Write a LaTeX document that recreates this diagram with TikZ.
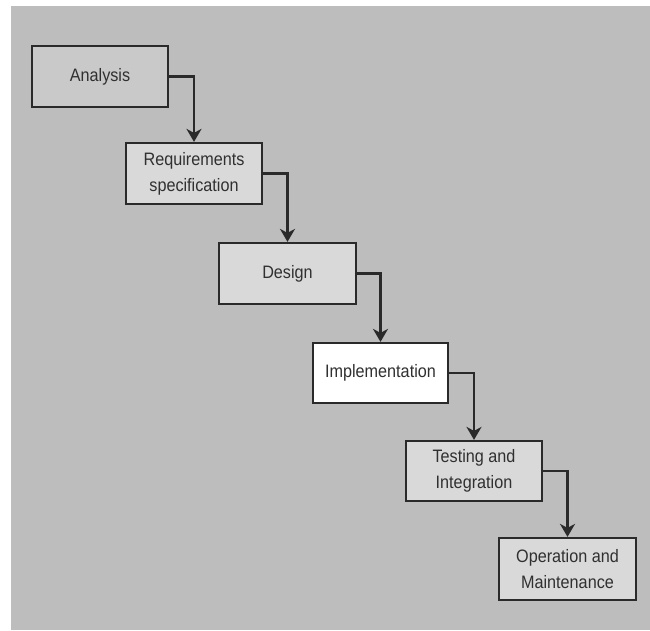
\documentclass[tikz,border=0pt]{standalone}
\usepackage{fontspec}
\setmainfont{Liberation Sans}[FakeStretch=0.9]
\usetikzlibrary{arrows.meta}
\definecolor{bggray}{HTML}{BDBDBD}
\definecolor{boxgray}{HTML}{D9D9D9}
\definecolor{boxgrayA}{HTML}{C9C9C9}
\definecolor{ink}{HTML}{2A2A2A}
\definecolor{txt}{HTML}{303030}
\begin{document}
\begin{tikzpicture}[x=1pt,y=-1pt,
  stagebox/.style={draw=ink, line width=2.2pt, fill=boxgray, minimum width=136pt, minimum height=61pt,
    inner sep=0pt, align=center, text=txt, font=\fontsize{18}{26}\selectfont},
  flow/.style={draw=ink, line width=2.2pt, -{Stealth[length=13pt,width=15pt,inset=4pt]}}]
  \useasboundingbox (0,0) rectangle (650,631);
  \fill[white] (0,0) rectangle (650,631);
  \fill[bggray] (11,6) rectangle (650,630);
  \node[stagebox, fill=boxgrayA] (ana) at (100,76.5) {Analysis};
  \node[stagebox] (req) at (194,173.5) {Requirements\\specification};
  \node[stagebox, minimum width=137pt] (des) at (287.5,273.5) {Design};
  \node[stagebox, fill=white, minimum width=135pt, minimum height=60pt] (imp) at (380.5,373) {Implementation};
  \node[stagebox, minimum height=60pt] (tes) at (474,471) {Testing and\\Integration};
  \node[stagebox, minimum width=137pt, minimum height=62pt] (ope) at (567.5,569) {Operation and\\Maintenance};
  \draw[flow] (ana.east) -| (req.north);
  \draw[flow] (req.east) -| (des.north);
  \draw[flow] (des.east) -| (imp.north);
  \draw[flow] (imp.east) -| (tes.north);
  \draw[flow] (tes.east) -| (ope.north);
\end{tikzpicture}
\end{document}
